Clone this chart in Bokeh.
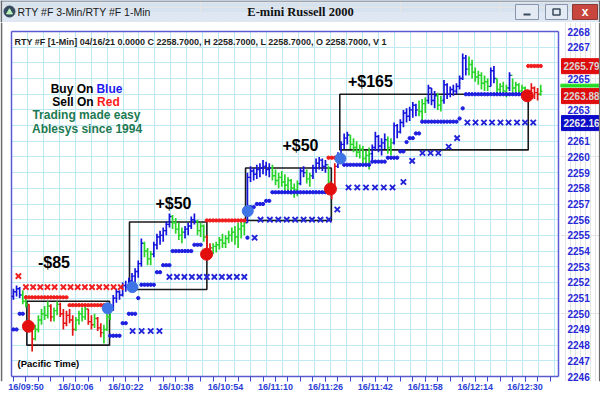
from bokeh.plotting import figure
from bokeh.models import Range1d, FixedTicker, Grid, ColumnDataSource
from bokeh.layouts import column, row
from bokeh.embed import file_html
from bokeh.resources import INLINE
from bokeh.core.properties import value

# ---------------- data (minutes after 09:50, 1-min bars) ----------------
bar_minute = list(range(-4, 166))
bar_high = [2251.6, 2251.8, 2251.7, 2251.5, 2251.2, 2250.6, 2249.4, 2249.3, 2249.9, 2250.3,
            2250.5, 2250.8, 2250.6, 2250.4, 2250.8, 2250.7, 2250.3, 2250.2, 2250.3, 2249.9,
            2249.8, 2250.2, 2250.4, 2250.6, 2250.3, 2249.9, 2250.0, 2249.8, 2249.4, 2249.3,
            2250.0, 2250.6, 2251.2, 2251.6, 2251.5, 2252.0, 2252.1, 2252.3, 2252.6, 2252.9,
            2253.4, 2254.8, 2254.6, 2254.2, 2254.0, 2254.6, 2255.1, 2255.3, 2255.5, 2255.9,
            2256.4, 2256.3, 2256.1, 2255.8, 2255.5, 2255.6, 2255.8, 2256.2, 2256.4, 2256.0,
            2255.8, 2255.7, 2255.0, 2254.5, 2254.5, 2254.6, 2254.9, 2255.1, 2255.0, 2255.3,
            2255.5, 2255.6, 2255.8, 2255.9, 2256.0, 2259.0, 2259.4, 2259.3, 2259.5, 2259.6,
            2259.8, 2259.7, 2259.6, 2259.5, 2259.2, 2259.0, 2259.1, 2258.9, 2258.7, 2258.6,
            2258.3, 2258.5, 2259.3, 2259.4, 2259.2, 2259.0, 2259.5, 2259.9, 2260.0, 2259.9,
            2259.8, 2259.4, 2258.3, 2259.6, 2260.3, 2261.0, 2261.5, 2261.6, 2261.4, 2261.2,
            2261.0, 2260.8, 2260.7, 2260.4, 2260.6, 2260.8, 2261.6, 2261.4, 2261.2, 2261.5,
            2261.3, 2261.2, 2262.2, 2262.1, 2262.4, 2263.0, 2263.1, 2263.2, 2263.5, 2263.4,
            2263.6, 2263.7, 2263.8, 2264.6, 2264.4, 2264.2, 2264.1, 2263.9, 2264.9, 2264.7,
            2264.5, 2264.6, 2264.7, 2265.2, 2266.6, 2266.5, 2266.4, 2266.2, 2265.7, 2265.5,
            2265.4, 2265.2, 2265.0, 2265.7, 2265.8, 2265.0, 2264.7, 2264.8, 2264.6, 2265.4,
            2265.0, 2264.8, 2264.7, 2264.6, 2264.5, 2264.2, 2264.7, 2264.5, 2264.4, 2264.6]
bar_low = [2250.9, 2251.1, 2251.0, 2250.6, 2250.4, 2248.9, 2247.6, 2248.3, 2248.8, 2249.3,
           2249.6, 2249.7, 2249.5, 2249.5, 2249.9, 2249.8, 2249.0, 2249.2, 2249.4, 2248.6,
           2248.9, 2249.3, 2249.5, 2249.6, 2249.3, 2249.0, 2249.1, 2248.9, 2248.5, 2248.1,
           2248.9, 2249.6, 2250.2, 2250.7, 2250.9, 2251.1, 2251.4, 2251.5, 2251.7, 2252.0,
           2252.3, 2253.0, 2253.6, 2253.1, 2253.1, 2253.6, 2254.1, 2254.4, 2254.6, 2255.0,
           2255.5, 2255.4, 2255.1, 2254.7, 2254.5, 2254.8, 2255.0, 2255.4, 2255.7, 2255.0,
           2254.9, 2254.6, 2253.6, 2253.6, 2253.8, 2253.9, 2254.1, 2254.2, 2254.2, 2254.5,
           2254.6, 2254.4, 2254.2, 2254.8, 2255.0, 2255.8, 2258.4, 2258.5, 2258.6, 2258.7,
           2258.9, 2258.8, 2258.7, 2258.5, 2258.2, 2258.0, 2258.1, 2257.9, 2257.8, 2257.6,
           2257.4, 2257.5, 2258.2, 2258.7, 2258.3, 2258.1, 2258.6, 2259.0, 2259.2, 2259.1,
           2259.0, 2258.1, 2257.3, 2257.9, 2259.3, 2260.0, 2260.5, 2260.8, 2260.5, 2260.3,
           2260.0, 2259.9, 2259.6, 2259.4, 2259.2, 2259.8, 2260.4, 2260.3, 2260.1, 2260.5,
           2260.2, 2260.1, 2260.8, 2261.2, 2261.5, 2261.9, 2262.2, 2262.3, 2262.5, 2262.6,
           2262.6, 2262.2, 2262.8, 2263.4, 2263.3, 2263.1, 2263.0, 2262.9, 2263.4, 2263.7,
           2263.8, 2263.9, 2264.0, 2264.3, 2264.9, 2265.2, 2265.2, 2265.0, 2264.8, 2264.6,
           2264.3, 2264.2, 2264.2, 2264.5, 2264.7, 2264.0, 2263.9, 2264.0, 2263.8, 2264.2,
           2264.1, 2264.0, 2263.9, 2263.9, 2263.8, 2263.5, 2263.8, 2263.7, 2263.6, 2263.9]
bar_close = [2251.4, 2251.6, 2251.2, 2250.8, 2250.6, 2249.2, 2248.4, 2249.0, 2249.6, 2250.0,
             2249.9, 2250.5, 2249.8, 2250.2, 2250.6, 2250.0, 2249.4, 2249.9, 2249.6, 2249.0,
             2249.6, 2250.0, 2249.8, 2250.3, 2249.5, 2249.3, 2249.7, 2249.1, 2248.8, 2249.0,
             2249.8, 2250.4, 2251.0, 2251.4, 2251.2, 2251.8, 2251.7, 2252.1, 2252.4, 2252.7,
             2253.2, 2254.5, 2254.0, 2253.5, 2253.8, 2254.4, 2254.9, 2255.0, 2255.3, 2255.7,
             2256.2, 2255.8, 2255.4, 2255.0, 2255.2, 2255.4, 2255.6, 2256.0, 2255.9, 2255.3,
             2255.6, 2254.9, 2253.9, 2254.2, 2254.3, 2254.4, 2254.7, 2254.5, 2254.8, 2255.0,
             2255.2, 2254.9, 2255.4, 2255.6, 2255.8, 2258.7, 2259.1, 2258.9, 2259.2, 2259.3,
             2259.4, 2259.2, 2259.3, 2258.8, 2258.5, 2258.7, 2258.4, 2258.2, 2258.5, 2258.0,
             2257.9, 2258.3, 2259.1, 2259.0, 2258.6, 2258.8, 2259.3, 2259.6, 2259.8, 2259.4,
             2259.5, 2258.4, 2257.9, 2259.4, 2260.1, 2260.8, 2261.2, 2261.4, 2260.8, 2260.6,
             2260.3, 2260.5, 2259.9, 2260.1, 2260.2, 2260.6, 2261.3, 2260.7, 2260.9, 2261.1,
             2260.6, 2260.9, 2262.0, 2261.6, 2262.2, 2262.8, 2262.6, 2263.0, 2263.3, 2263.0,
             2262.9, 2263.4, 2263.6, 2264.4, 2263.6, 2263.9, 2263.3, 2263.6, 2264.6, 2264.0,
             2264.3, 2264.2, 2264.5, 2265.0, 2266.3, 2265.6, 2265.9, 2265.4, 2265.1, 2265.2,
             2264.7, 2264.8, 2264.5, 2265.5, 2265.0, 2264.3, 2264.5, 2264.2, 2264.4, 2265.2,
             2264.4, 2264.6, 2264.2, 2264.4, 2264.0, 2263.8, 2264.4, 2264.1, 2264.0, 2264.2]
first_open = 2251.1
# b = blue (up), g = green, r = red (short) bars, as run lengths
bar_color_runs = [("b", 3), ("g", 2), ("r", 2), ("g", 5), ("r", 1), ("g", 2), ("r", 5), ("g", 4),
                  ("r", 2), ("g", 1), ("r", 2), ("g", 3), ("b", 10), ("g", 3), ("b", 6), ("g", 4),
                  ("b", 4), ("g", 3), ("r", 2), ("g", 11), ("b", 8), ("g", 9), ("b", 2), ("g", 2),
                  ("b", 5), ("g", 1), ("r", 2), ("b", 4), ("g", 7), ("b", 5), ("g", 2), ("b", 8),
                  ("g", 3), ("b", 3), ("g", 2), ("b", 8), ("g", 7), ("b", 2), ("g", 4), ("b", 1),
                  ("g", 5), ("r", 4), ("g", 1)]

# trailing stop levels (first minute, last minute, price)
blue_stop_runs = [(-4, -3, 2249.0), (-2, -1, 2250.0), (27, 30, 2248.6), (31, 32, 2249.4),
                  (33, 35, 2250.0), (36, 36, 2251.0), (37, 41, 2251.85), (42, 43, 2252.65),
                  (44, 46, 2253.1), (47, 53, 2254.0), (54, 56, 2254.4), (71, 71, 2254.85),
                  (72, 73, 2256.8), (74, 76, 2257.0), (77, 78, 2257.2), (79, 97, 2257.75),
                  (102, 110, 2259.5), (111, 115, 2259.7), (116, 119, 2259.95), (120, 121, 2260.35),
                  (122, 122, 2260.95), (123, 124, 2261.2), (125, 126, 2261.5), (127, 138, 2262.25),
                  (139, 139, 2262.45), (140, 140, 2263.1), (141, 160, 2264.0)]
red_stop_runs = [(0, 13, 2251.05), (14, 26, 2250.55), (58, 70, 2255.95), (97, 99, 2259.95),
                 (161, 165, 2265.8)]

blue_x_minute = [34.2, 37.1, 40.0, 42.8,
                 46.0, 48.4, 50.8, 53.2, 55.6, 58.0, 60.4, 62.8, 65.2, 67.6, 70.0,
                 73.3,
                 75.2, 78.2, 80.9, 83.6, 86.3, 89.0, 91.7, 94.4, 97.1, 99.8,
                 103.4, 106.2, 109.0, 111.9, 114.7, 117.5, 121.0, 123.8,
                 127.1, 129.7, 132.2, 135.5, 138.2,
                 141.5, 144.1, 146.8, 149.4, 152.1, 154.7, 157.4, 160.0, 162.6]
blue_x_price = [2248.9, 2248.9, 2248.9, 2248.9,
                2252.35, 2252.35, 2252.35, 2252.35, 2252.35, 2252.35, 2252.35, 2252.35, 2252.35, 2252.35, 2252.35,
                2254.85,
                2256.0, 2256.0, 2256.0, 2256.0, 2256.0, 2256.0, 2256.0, 2256.0, 2256.0, 2256.65,
                2258.05, 2258.05, 2258.05, 2258.05, 2258.05, 2258.05, 2258.4, 2259.75,
                2260.25, 2260.25, 2260.25, 2260.65, 2261.2,
                2262.2, 2262.2, 2262.2, 2262.2, 2262.2, 2262.2, 2262.2, 2262.2, 2262.2]
red_x_minute = [-2.4, 0.0, 2.3, 4.6, 6.9, 9.2, 12.0, 14.3, 16.6, 18.9, 21.2, 23.5, 25.8, 28.1, 30.4]
red_x_price = [2252.4, 2251.7, 2251.7, 2251.7, 2251.7, 2251.7, 2251.7, 2251.7, 2251.7, 2251.7,
               2251.7, 2251.7, 2251.7, 2251.7, 2251.7]

buy_minute = [26.2, 34.1, 71.1, 100.8]
buy_price = [2250.35, 2251.7, 2256.55, 2259.9]
sell_minute = [0.8, 57.9, 97.6, 160.7]
sell_price = [2249.2, 2253.8, 2257.95, 2263.9]

trade_start = [0.3, 33.2, 70.4, 100.6]
trade_end = [26.8, 58.0, 97.9, 161.0]
trade_top = [2250.8, 2255.85, 2259.3, 2264.0]
trade_bottom = [2248.0, 2251.55, 2255.95, 2260.45]
trade_result = ["-$85", "+$50", "+$50", "+$165"]
result_minute = [9.0, 47.3, 88.0, 110.4]
result_price = [2253.3, 2257.05, 2260.7, 2264.8]

x_tick_minutes = [0, 16, 32, 48, 64, 80, 96, 112, 128, 144, 160]
x_tick_labels = ["16/09:50", "16/10:06", "16/10:22", "16/10:38", "16/10:54", "16/11:10",
                 "16/11:26", "16/11:42", "16/11:58", "16/12:14", "16/12:30"]
y_ticks = list(range(2246, 2269))
y_ticks_hidden = [2266, 2264, 2262]   # covered by the price markers

price_marker_values = [2265.79, 2263.88, 2262.16]
green_level = 2264.55

header_text = "RTY #F [1-Min] 04/16/21  0.0000 C 2258.7000, H 2258.7000, L 2258.7000, O 2258.7000, V 1"
window_title = "RTY #F 3-Min/RTY #F 1-Min"
chart_title = "E-mini Russell 2000"

# ---------------- styling / layout constants ----------------
FONT = "Liberation Sans"
COL = {"b": "#1414dc", "g": "#28d428", "r": "#e41414"}
FRAME_COLOR = "#5a5ad2"
GRID_COLOR = "#bfe9f2"
bar_colors = []
for code, n in bar_color_runs:
    bar_colors += [COL[code]] * n
bar_open = [first_open] + bar_close[:-1]

T_LEFT, T_RIGHT = -4.62, 170.7      # chart border (minutes)
P_LOW, P_HIGH = 2246, 2268          # chart border (price)
PX_T = 547 / (T_RIGHT - T_LEFT)     # pixels per minute
PX_P = 345 / (P_HIGH - P_LOW)       # pixels per price unit
MAIN_W, MAIN_H, BOT = 560, 373, 14
# the plotting frame is a bit larger than the drawn chart border
X_RANGE = Range1d(T_LEFT - 11 / PX_T, T_RIGHT + 2 / PX_T)
Y_RANGE = Range1d(P_LOW - 5 / PX_P, P_HIGH + 9 / PX_P)


def expand(runs):
    xs, ys = [], []
    for a, b, lvl in runs:
        for m in range(a, b + 1):
            xs.append(m)
            ys.append(lvl)
    return xs, ys


# ---------------- title bar ----------------
tb = figure(width=600, height=22, x_range=Range1d(0, 600), y_range=Range1d(0, 22),
            output_backend="svg", toolbar_location=None, x_axis_location=None,
            y_axis_location=None, min_border=0, outline_line_color=None,
            background_fill_color="#d7e2ef", border_fill_color="#d7e2ef")
tb.quad(left=[0], right=[600], bottom=[0], top=[10], color="#dfe8f2")
tb.segment(x0=[0], y0=[21.5], x1=[600], y1=[21.5], color="#5d6b7c", line_width=1)
tb.segment(x0=[0.8, 599.2], y0=[0, 0], x1=[0.8, 599.2], y1=[22, 22], color="#6a6a6a", line_width=1.6)
tb.scatter([9], [11], size=11, color="#34495c")
tb.scatter([9], [10.3], marker="triangle", size=6, color="#b8f0b8")
tb.text(x=[17], y=[11], text=[window_title], text_font=value(FONT), text_font_size="10.5px",
        text_align="left", text_baseline="middle", text_color="#1a1a1a")
tb.text(x=[300], y=[11], text=[chart_title], text_font=value("Liberation Serif"),
        text_font_style="bold", text_font_size="12.5px", text_align="center",
        text_baseline="middle", text_color="#111111")
tb.quad(left=[515, 545], right=[538, 567], bottom=[3, 3], top=[18, 18],
        fill_color="#e3eaf3", line_color="#8796aa", line_width=1)
tb.quad(left=[572], right=[597], bottom=[3], top=[18], fill_color="#c8463d",
        line_color="#8a3a35", line_width=1)
tb.segment(x0=[523], y0=[8], x1=[530], y1=[8], color="#3b4a5c", line_width=2)
tb.quad(left=[552.5], right=[559.5], bottom=[7.5], top=[13.5], fill_color=None,
        line_color="#3b4a5c", line_width=1.5)
tb.text(x=[584.5], y=[11], text=["x"], text_font=value(FONT), text_font_style="bold",
        text_font_size="12px", text_align="center", text_baseline="middle", text_color="white")

# ---------------- main chart ----------------
p = figure(width=MAIN_W, height=MAIN_H, x_range=X_RANGE, y_range=Y_RANGE,
           output_backend="svg", toolbar_location=None, y_axis_location=None,
           min_border_left=0, min_border_right=0, min_border_top=0, min_border_bottom=BOT,
           background_fill_color="white", border_fill_color="white", outline_line_color=None)

p.xgrid.ticker = FixedTicker(ticks=[0.4 + 5.12 * k for k in range(-1, 35)])
p.xgrid.grid_line_color = GRID_COLOR
p.add_layout(Grid(dimension=1, ticker=FixedTicker(ticks=y_ticks), grid_line_color=GRID_COLOR))

p.xaxis.ticker = FixedTicker(ticks=x_tick_minutes, minor_ticks=list(range(-4, 169, 4)))
p.xaxis.major_label_overrides = {m: lab for m, lab in zip(x_tick_minutes, x_tick_labels)}
p.xaxis.major_label_text_font = FONT
p.xaxis.major_label_text_font_style = "bold"
p.xaxis.major_label_text_font_size = "9px"
p.xaxis.major_label_text_color = "#2d3fd6"
p.xaxis.major_label_standoff = 0
p.xaxis.major_tick_out = 0
p.xaxis.major_tick_in = 5
p.xaxis.minor_tick_out = 0
p.xaxis.minor_tick_in = 5
p.xaxis.major_tick_line_color = "#3a4ad0"
p.xaxis.minor_tick_line_color = "#3a4ad0"
p.xaxis.axis_line_color = None

# white margins between the chart border and the window edge, then the border itself
p.quad(left=[X_RANGE.start, X_RANGE.start, X_RANGE.start, T_RIGHT],
       right=[X_RANGE.end, X_RANGE.end, T_LEFT, X_RANGE.end],
       bottom=[P_HIGH, Y_RANGE.start, Y_RANGE.start, Y_RANGE.start],
       top=[Y_RANGE.end, P_LOW, Y_RANGE.end, Y_RANGE.end], color="white")
p.segment(x0=[X_RANGE.start + 1 / PX_T], y0=[Y_RANGE.start], x1=[X_RANGE.start + 1 / PX_T],
          y1=[Y_RANGE.end], color="#6a6a6a", line_width=1.6)
p.segment(x0=[T_LEFT, T_LEFT, T_LEFT, T_RIGHT], y0=[P_LOW, P_HIGH, P_LOW, P_LOW],
          x1=[T_RIGHT, T_RIGHT, T_LEFT, T_RIGHT], y1=[P_LOW, P_HIGH, P_HIGH, P_HIGH],
          color=FRAME_COLOR, line_width=1.5)

# trade boxes
p.quad(left=trade_start, right=trade_end, top=trade_top, bottom=trade_bottom,
       fill_color=None, line_color="#1a1a1a", line_width=1.6)

# OHLC bars
src = ColumnDataSource(dict(t=bar_minute, h=bar_high, l=bar_low, o=bar_open, c=bar_close,
                            col=bar_colors,
                            tl=[m - 0.55 for m in bar_minute], tr=[m + 0.55 for m in bar_minute]))
p.segment(x0="t", y0="l", x1="t", y1="h", color="col", line_width=1.7, source=src)
p.segment(x0="tl", y0="o", x1="t", y1="o", color="col", line_width=1.4, source=src)
p.segment(x0="t", y0="c", x1="tr", y1="c", color="col", line_width=1.4, source=src)

# stop dots
bx, by = expand(blue_stop_runs)
rx, ry = expand(red_stop_runs)
p.scatter(bx, by, size=3.3, color="#1e1ee0")
p.scatter(rx, ry, size=3.3, color="#f01c1c")

# X markers
p.scatter(blue_x_minute, blue_x_price, marker="x", size=7.5, line_width=1.9, color="#2323d8")
p.scatter(red_x_minute, red_x_price, marker="x", size=7.5, line_width=1.9, color="#f02020")

# signal circles
p.scatter(buy_minute, buy_price, size=11, color="#3f74e6")
p.scatter(sell_minute, sell_price, size=12, color="#e30f0f")

# texts
p.text(x=result_minute, y=result_price, text=trade_result, text_font=value(FONT),
       text_font_style="bold", text_font_size="16px", text_align="center",
       text_baseline="middle", text_color="black")
p.text(x=[-3.65], y=[2267.34], text=[header_text], text_font=value(FONT), text_font_style="bold",
       text_font_size="9px", text_align="left", text_baseline="middle", text_color="#1e1e1e")
p.text(x=[21.6, 21.7], y=[2264.34, 2263.53], text=["Buy On", "Sell On"], text_font=value(FONT),
       text_font_style="bold", text_font_size="12px", text_align="right",
       text_baseline="middle", text_color="black")
p.text(x=[22.6], y=[2264.34], text=["Blue"], text_font=value(FONT), text_font_style="bold",
       text_font_size="12px", text_align="left", text_baseline="middle", text_color="#1c1cf0")
p.text(x=[22.8], y=[2263.53], text=["Red"], text_font=value(FONT), text_font_style="bold",
       text_font_size="12px", text_align="left", text_baseline="middle", text_color="#ff1a1a")
p.text(x=[19.4, 19.6], y=[2262.68, 2261.78], text=["Trading made easy", "Ablesys since 1994"],
       text_font=value(FONT), text_font_style="bold", text_font_size="12px",
       text_align="center", text_baseline="middle", text_color="#1d7a52")
p.text(x=[7.2], y=[2246.85], text=["(Pacific Time)"], text_font=value(FONT),
       text_font_style="bold", text_font_size="9.5px", text_align="center",
       text_baseline="middle", text_color="black")

# ---------------- price scale strip (shares the price range) ----------------
ps = figure(width=600 - MAIN_W, height=MAIN_H, x_range=Range1d(0, 600 - MAIN_W), y_range=Y_RANGE,
            output_backend="svg", toolbar_location=None, x_axis_location=None,
            y_axis_location=None, min_border_left=0, min_border_right=0, min_border_top=0,
            min_border_bottom=BOT, outline_line_color=None,
            background_fill_color="white", border_fill_color="white")
shown_ticks = [t for t in y_ticks if t not in y_ticks_hidden]
ps.text(x=[7] * len(shown_ticks), y=shown_ticks, text=[str(t) for t in shown_ticks],
        text_font=value(FONT), text_font_style="bold", text_font_size="10px",
        text_align="left", text_baseline="middle", text_color="#2828d8")
half_box = 7.5 / PX_P
ps.quad(left=[1, 1, 1], right=[40, 40, 40],
        bottom=[v - half_box for v in price_marker_values],
        top=[v + half_box for v in price_marker_values],
        color=["#e00c0c", "#e00c0c", "#0a0ac8"])
ps.text(x=[3, 3, 3], y=price_marker_values, text=[f"{v:.2f}" for v in price_marker_values],
        text_font=value(FONT), text_font_style="bold", text_font_size="10px",
        text_align="left", text_baseline="middle",
        text_color=["#d6d6d6", "#d6d6d6", "#ececec"])
ps.quad(left=[0], right=[40], bottom=[green_level - 1.4 / PX_P],
        top=[green_level + 1.4 / PX_P], color="#22dd22")
ps.segment(x0=[39.2], y0=[Y_RANGE.start], x1=[39.2], y1=[Y_RANGE.end], color="#6a6a6a",
           line_width=1.6)

# window bottom edge
wb = figure(width=600, height=2, x_range=Range1d(0, 1), y_range=Range1d(0, 1),
            output_backend="svg", toolbar_location=None, x_axis_location=None,
            y_axis_location=None, min_border=0, outline_line_color=None,
            background_fill_color="#6a6a6a", border_fill_color="#6a6a6a")

layout = column(tb, row(p, ps, spacing=0), wb, spacing=0)
open("out.html", "w").write(file_html(layout, INLINE))
